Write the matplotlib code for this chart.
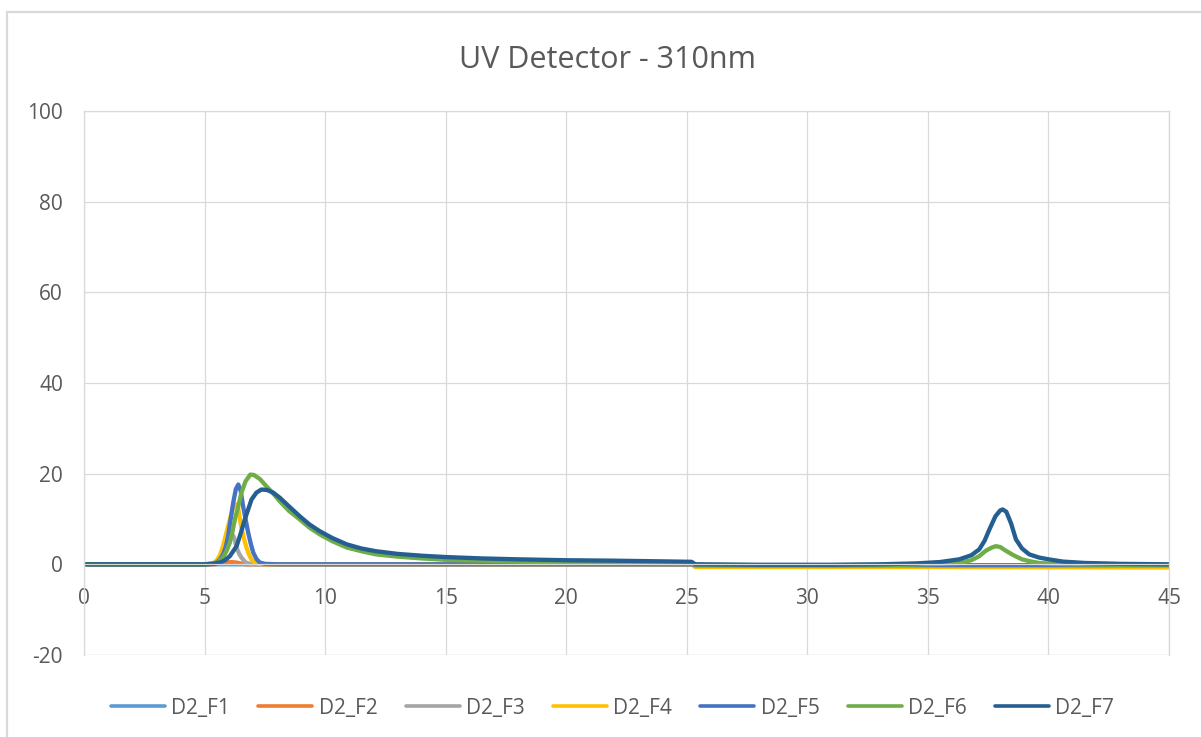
import matplotlib.pyplot as plt
from matplotlib.patches import Rectangle

# retention time (min) / absorbance readings for each fraction
t_f1 = [0.1, 25.2, 25.35, 45]
v_f1 = [0, 0, -0.2, -0.2]

t_f2 = [0.1, 5.4, 5.7, 5.9, 6.1, 6.3, 6.5, 6.7, 25.2, 25.35, 45]
v_f2 = [0, 0, 0.2, 0.4, 0.5, 0.4, 0.2, 0, 0, -0.3, -0.3]

t_f3 = [0.1, 5.0, 5.4, 5.6, 5.75, 5.9, 6.02, 6.12, 6.22, 6.33, 6.43, 6.53,
        6.64, 6.74, 6.9, 7.2, 12, 25.2, 25.35, 45]
v_f3 = [0, 0, 0.2, 0.9, 2.2, 4.2, 6.0, 6.8, 6.0, 3.7, 2.4, 1.5,
        0.8, 0.3, 0.1, 0, 0, 0, -0.3, -0.3]

t_f4 = [0.1, 5.0, 5.35, 5.5, 5.64, 5.78, 5.91, 6.05, 6.17, 6.28, 6.38, 6.53,
        6.64, 6.74, 6.85, 6.95, 7.1, 7.29, 7.6, 12, 25.2, 25.35, 35, 45]
v_f4 = [0, 0, 0.2, 0.8, 2.0, 4.2, 7.0, 9.9, 12.2, 13.3, 12.9, 8.1,
        5.6, 3.7, 2.1, 1.0, 0.4, 0.1, 0, 0, 0, -0.6, -0.6, -0.7]

t_f5 = [0.1, 5.0, 5.3, 5.5, 5.65, 5.77, 5.88, 5.98, 6.08, 6.19, 6.3, 6.4,
        6.5, 6.6, 6.7, 6.81, 6.92, 7.02, 7.15, 7.29, 7.5, 8, 12, 20,
        25.2, 25.35, 35, 45]
v_f5 = [0, 0, 0.1, 0.4, 1.1, 2.2, 3.8, 6.2, 9.8, 13.6, 16.6, 17.6,
        16.2, 12.8, 10.0, 7.0, 4.5, 2.6, 1.2, 0.4, 0.1, 0, 0, 0,
        0, -0.2, -0.2, -0.2]

t_f6 = [0.1, 5.0, 5.5, 5.77, 5.92, 6.05, 6.15, 6.26, 6.4, 6.53, 6.7, 6.9,
        7.05, 7.3, 7.57, 7.85, 8.12, 8.5, 8.95, 9.35, 9.78, 10.3, 10.9, 11.5,
        12.1, 13, 14, 15, 16.5, 18, 20, 22, 24, 25.2, 25.35, 28,
        31, 34, 35.5, 36.3, 36.8, 37.13, 37.4, 37.65, 37.82, 38.0, 38.23, 38.55,
        38.9, 39.2, 39.6, 40.2, 41, 43, 45]
v_f6 = [0, 0, 0.2, 1.5, 3.0, 4.8, 7.0, 9.9, 12.8, 15.8, 18.3, 19.8,
        19.7, 18.8, 17.2, 15.6, 13.9, 11.8, 9.9, 8.1, 6.6, 5.1, 3.7, 2.9,
        2.2, 1.7, 1.3, 1.0, 0.8, 0.6, 0.45, 0.35, 0.25, 0.2, -0.1, -0.2,
        -0.2, -0.1, 0.1, 0.3, 0.9, 1.8, 3.0, 3.7, 4.0, 3.8, 3.0, 2.0,
        1.1, 0.7, 0.3, 0.1, 0, -0.1, -0.1]

t_f7 = [0.1, 3, 5.0, 5.4, 5.64, 5.85, 6.05, 6.33, 6.5, 6.67, 6.95, 7.15,
        7.36, 7.6, 7.85, 8.12, 8.5, 8.95, 9.35, 9.78, 10.3, 10.9, 11.5, 12.1,
        13, 14, 15, 16.5, 18, 20, 22, 24, 25.2, 25.35, 28, 31,
        33, 34.5, 35.5, 36.3, 36.8, 37.13, 37.35, 37.55, 37.8, 38.0, 38.1, 38.25,
        38.45, 38.65, 38.9, 39.2, 39.6, 40.0, 40.6, 41.5, 43, 45]
v_f7 = [0, 0, 0, 0.1, 0.4, 0.9, 1.8, 4.0, 6.8, 9.9, 14.3, 15.8,
        16.5, 16.4, 15.8, 14.7, 12.8, 10.6, 8.8, 7.3, 5.8, 4.4, 3.5, 2.9,
        2.3, 1.9, 1.6, 1.3, 1.1, 0.9, 0.8, 0.65, 0.55, 0, -0.1, -0.1,
        0, 0.2, 0.5, 1.1, 2.0, 3.3, 5.2, 7.7, 10.6, 11.9, 12.1, 11.6,
        9.0, 5.5, 3.5, 2.2, 1.5, 1.1, 0.6, 0.3, 0.1, 0]

labels = ["D2_F1", "D2_F2", "D2_F3", "D2_F4", "D2_F5", "D2_F6", "D2_F7"]
colors = ["#5B9BD5", "#ED7D31", "#A5A5A5", "#FFC000", "#4472C4", "#70AD47", "#255E91"]

series = [(t_f1, v_f1), (t_f2, v_f2), (t_f3, v_f3), (t_f4, v_f4),
          (t_f5, v_f5), (t_f6, v_f6), (t_f7, v_f7)]

plt.rcParams['font.family'] = ['Open Sans', 'DejaVu Sans']
plt.rcParams['axes.unicode_minus'] = False
txt = '#595959'
grid = '#D9D9D9'

fig = plt.figure(figsize=(12.01, 7.37), dpi=100)
ax = fig.add_axes([0.0699, 0.1113, 0.9035, 0.7381])

for (t, v), lab, c in zip(series, labels, colors):
    ax.plot(t, v, color=c, lw=3.1, label=lab,
            solid_joinstyle='round', solid_capstyle='round')

ax.set_xlim(0, 45)
ax.set_ylim(-20, 100)
ax.set_xticks(range(0, 46, 5))
ax.set_yticks(range(-20, 101, 20))
ax.grid(True, color=grid, lw=0.9)
ax.set_axisbelow(True)
ax.spines['bottom'].set_position(('data', 0))
for s in ax.spines.values():
    s.set_color(grid)
    s.set_linewidth(0.9)
ax.tick_params(length=0, labelsize=15, labelcolor=txt)
ax.tick_params(axis='x', pad=17)
ax.tick_params(axis='y', pad=15)

# bottom gridline at -20 since the x spine sits on zero
ax.axhline(-20, color=grid, lw=0.9, zorder=0)

fig.text(0.506, 0.918, "UV Detector - 310nm", ha='center', va='center',
         fontsize=22, color=txt)

leg = fig.legend(loc='center', bbox_to_anchor=(0.51, 0.039), ncol=7,
                 frameon=False, fontsize=15, handlelength=2.6,
                 handletextpad=0.3, columnspacing=1.35)
for line in leg.get_lines():
    line.set_linewidth(2.6)
for t in leg.get_texts():
    t.set_color(txt)

fig.patches.append(Rectangle((7 / 1201, -0.1), 1.2, 0.1 + (1 - 12 / 737),
                             transform=fig.transFigure, fill=False,
                             edgecolor=grid, lw=1.6))

fig.savefig("out.png", dpi=100, facecolor='white')
